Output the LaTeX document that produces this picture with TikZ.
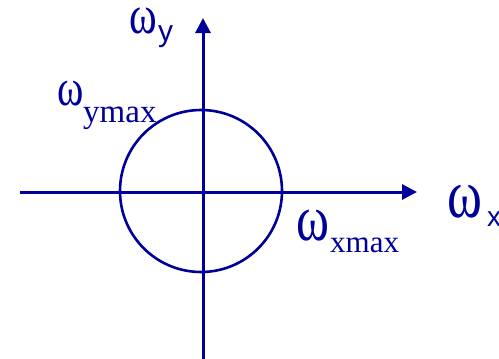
\documentclass[tikz,border=0pt]{standalone}
\usepackage{fontspec}
\setmainfont{Liberation Serif}
\newfontfamily\sansf{Liberation Sans}
\usetikzlibrary{arrows.meta}
\definecolor{axisblue}{RGB}{0,0,153}
\newcommand{\omg}{\scalebox{1}[1.3]{ω}}
\begin{document}
\begin{tikzpicture}[x=1pt,y=-1pt,
  axis/.style={draw=axisblue,line width=3pt,-{Triangle[length=15pt,width=15pt]}},
  ring/.style={draw=axisblue,line width=2.6pt},
  lbl/.style={text=axisblue,inner sep=0pt,anchor=base west}]
\useasboundingbox (0,0) rectangle (499,359);
\coordinate (xs) at (20,192);
\coordinate (xe) at (417,192);
\coordinate (ys) at (203,359);
\coordinate (ye) at (203,18);
\node[ring,circle,minimum size=162pt,inner sep=0pt] (c) at (201,191) {};
\draw[axis] (xs) -- (xe);
\draw[axis] (ys) -- (ye);
% omega_y
\node[lbl,font=\fontsize{42}{42}\selectfont] (wy) at (129,33) {\omg};
\node[lbl,font=\sansf\fontsize{30}{30}\selectfont] (wys) at (158,41) {y};
% omega_ymax
\node[lbl,font=\fontsize{40}{40}\selectfont] (wym) at (57,105) {\omg};
\node[lbl,font=\fontsize{33}{33}\selectfont] (wyms) at (83,122) {ymax};
% omega_xmax
\node[lbl,font=\fontsize{50}{50}\selectfont] (wxm) at (296,240) {\omg};
\node[lbl,font=\fontsize{31}{31}\selectfont] (wxms) at (330,252) {xmax};
% omega x
\node[lbl,font=\fontsize{53}{53}\selectfont] (wx) at (447,217) {\omg};
\node[lbl,font=\sansf\fontsize{28}{28}\selectfont] (wxs) at (487,226) {x};
\end{tikzpicture}
\end{document}
